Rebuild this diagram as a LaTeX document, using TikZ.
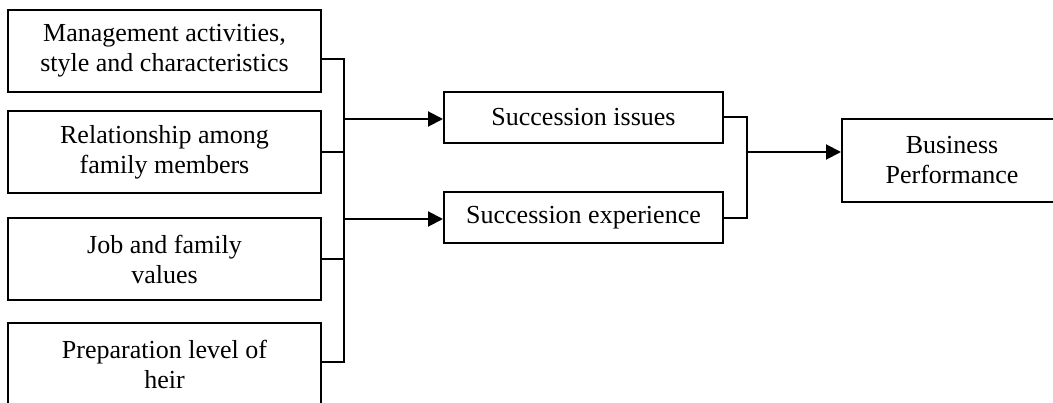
\documentclass[tikz,border=0pt]{standalone}
\usepackage{fontspec}
\setmainfont{Liberation Serif}
\usetikzlibrary{arrows.meta}
\begin{document}
\begin{tikzpicture}[x=1pt,y=-1pt,
  box/.style={draw,line width=2pt,rectangle,align=center,inner sep=0pt,
    font=\fontsize{26}{30}\selectfont},
  lbox/.style={box,minimum width=313pt,minimum height=82pt},
  sbox/.style={box,minimum width=279pt,minimum height=51pt},
  conn/.style={line width=2pt},
  arr/.style={line width=2pt,-{Triangle[length=15pt,width=15pt]}}]
\useasboundingbox (0,0) rectangle (1053,403);
\node[lbox] (m1) at (164.5,51) {Management activities,\\style and characteristics};
\node[lbox] (m2) at (164.5,152) {Relationship among\\family members};
\node[lbox] (m3) at (164.5,259.5) {Job and family\\values};
\node[lbox] (m4) at (164.5,364) {Preparation level of\\heir};
\node[sbox] (si) at (583.5,117.5) {Succession issues};
\node[sbox] (se) at (583.5,218) {Succession experience};
\node[box,minimum width=220pt,minimum height=83pt] (bp) at (952,160.5) {Business\\Performance};
\coordinate (v1) at (344,59);
\coordinate (v4) at (344,362);
\coordinate (ja) at (344,119);
\coordinate (jb) at (344,219);
\coordinate (r1) at (747,117.5);
\coordinate (r2) at (747,218);
\coordinate (rm) at (747,152);
\draw[conn] ([yshift=-8pt]m1.east) -- (v1) -- (v4) -- ([yshift=2pt]m4.east);
\draw[conn] (m2.east) -- (m2.east -| v1);
\draw[conn] (m3.east) -- (m3.east -| v1);
\draw[arr] (ja) -- (ja -| si.west);
\draw[arr] (jb) -- (jb -| se.west);
\draw[conn] (si.east) -- (r1) -- (r2) -- (se.east);
\draw[arr] (rm) -- (rm -| bp.west);
\end{tikzpicture}
\end{document}
